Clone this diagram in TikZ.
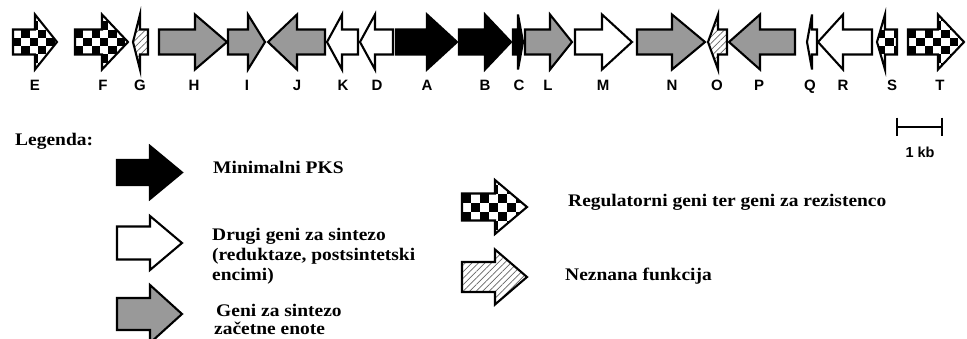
\documentclass[tikz,border=0pt]{standalone}
\usepackage{fontspec}
\setmainfont{Liberation Serif}
\newfontfamily\labelsans{Liberation Sans}
\usetikzlibrary{patterns.meta}

% block arrow outline: tail x, head-base x, tip x, centre y, body half height, head half height
\newcommand\arrowpath[6]{(#1,#4-#5) -- (#2,#4-#5) -- (#2,#4-#6) -- (#3,#4) -- (#2,#4+#6) -- (#2,#4+#5) -- (#1,#4+#5) -- cycle}

% plain filled gene arrow; #7 = fill colour
\newcommand\solidarrow[7]{%
  \draw[outl, fill=#7] \arrowpath{#1}{#2}{#3}{#4}{#5}{#6};}

% gene of unknown function: diagonal hatching
\newcommand\hatcharrow[6]{%
  \fill[white] \arrowpath{#1}{#2}{#3}{#4}{#5}{#6};
  \fill[pattern={Lines[angle=45,distance=4.6pt,line width=0.6pt]}, pattern color=black!60]
    \arrowpath{#1}{#2}{#3}{#4}{#5}{#6};
  \draw[outl] \arrowpath{#1}{#2}{#3}{#4}{#5}{#6};}

% regulatory / resistance gene: chequered; #7 = cell size, #8 = parity of first cell
\newcommand\checkarrow[8]{%
  \fill[white] \arrowpath{#1}{#2}{#3}{#4}{#5}{#6};
  \begin{scope}
    \clip \arrowpath{#1}{#2}{#3}{#4}{#5}{#6};
    \pgfmathsetmacro\cxo{min(#1,#3)}
    \foreach \ci in {0,...,14}{
      \foreach \cj in {-4,...,6}{
        \pgfmathtruncatemacro\cpar{mod(\ci+\cj+#8+20,2)}
        \ifnum\cpar=0
          \fill[black] (\cxo+\ci*#7,#4-#5+\cj*#7) rectangle ++(#7,#7);
        \fi
      }
    }
  \end{scope}
  \draw[outl] \arrowpath{#1}{#2}{#3}{#4}{#5}{#6};}

\begin{document}
\begin{tikzpicture}[x=1pt,y=-1pt,
  outl/.style={draw=black,line width=2.1pt,line join=miter},
  glabel/.style={font=\labelsans\bfseries\fontsize{15}{17}\selectfont, inner sep=0pt, anchor=base},
  legtext/.style={font=\bfseries\fontsize{17.7}{20}\selectfont, inner sep=0pt,
                  anchor=base west, xscale=1.1},
  scalebar/.style={line width=2.8pt},
]
\useasboundingbox (0,0) rectangle (967,338);
\clip (0,0) rectangle (967,338);

\colorlet{genegray}{black!40}

% ---- gene cluster ----
\def\gy{42}\def\gb{12.5}\def\gh{27.5}
\checkarrow{13}{35}{57}{\gy}{\gb}{\gh}{8.33}{1}          % E
\checkarrow{75}{102}{128}{\gy}{\gb}{\gh}{8.33}{0}        % F
\hatcharrow{148}{140}{133}{\gy}{\gb}{\gh}                % G
\solidarrow{159}{195}{227}{\gy}{\gb}{\gh}{genegray}      % H
\solidarrow{228}{248}{265}{\gy}{\gb}{\gh}{genegray}      % I
\solidarrow{325}{297}{268}{\gy}{\gb}{\gh}{genegray}      % J
\solidarrow{358}{342}{327}{\gy}{\gb}{\gh}{white}         % K
\solidarrow{393}{375}{360}{\gy}{\gb}{\gh}{white}         % D
\solidarrow{396}{427}{457}{\gy}{\gb}{\gh}{black}         % A
\solidarrow{459}{485}{511}{\gy}{\gb}{\gh}{black}         % B
\solidarrow{513}{518}{523}{\gy}{\gb}{\gh}{black}         % C
\solidarrow{525}{550}{572}{\gy}{\gb}{\gh}{genegray}      % L
\solidarrow{575}{602}{632}{\gy}{\gb}{\gh}{white}         % M
\solidarrow{637}{672}{705}{\gy}{\gb}{\gh}{genegray}      % N
\hatcharrow{727}{718}{708}{\gy}{\gb}{\gh}                % O
\solidarrow{795}{760}{729}{\gy}{\gb}{\gh}{genegray}      % P
\solidarrow{817}{812}{807}{\gy}{\gb}{\gh}{white}         % Q
\solidarrow{872}{843}{818}{\gy}{\gb}{\gh}{white}         % R
\checkarrow{897}{885}{877}{\gy}{\gb}{\gh}{8.33}{0}       % S
\checkarrow{908}{938}{964}{\gy}{\gb}{\gh}{8.33}{0}       % T

% gene names, all on one baseline
\foreach \g/\gx in {E/35,F/103,G/140,H/194,I/247,J/297,K/343,D/377,A/427,B/485,
                    C/519,L/548,M/603,N/672,O/717,P/759,Q/810,R/843,S/892,T/940}
  \node[glabel] (gene\g) at (\gx,90.5) {\g};

% ---- scale bar ----
\coordinate (sbL) at (897,127);
\coordinate (sbR) at (942,127);
\coordinate (sbLt) at (897,117.5);
\coordinate (sbLb) at (897,136);
\coordinate (sbRt) at (942,117.5);
\coordinate (sbRb) at (942,136);
\draw[scalebar] (sbL) -- (sbR);
\draw[scalebar] (sbLt) -- (sbLb);
\draw[scalebar] (sbRt) -- (sbRb);
\node[glabel, font=\labelsans\bfseries\fontsize{14.5}{16}\selectfont] (sblabel) at (920,157) {1 kb};

% ---- legend ----
\node[legtext] (legtitle) at (15,145) {Legenda:};

\solidarrow{117}{150}{182}{172.5}{12.5}{26.5}{black}
\node[legtext] (legpks) at (213,173) {Minimalni PKS};

\solidarrow{117}{150}{182}{243}{16.5}{27}{white}
\node[legtext] (legother1) at (212,240.5) {Drugi geni za sintezo};
\node[legtext] (legother2) at (212,260.2) {(reduktaze, postsintetski};
\node[legtext] (legother3) at (212,280) {encimi)};

\solidarrow{117}{150}{182}{314}{16}{29}{genegray}
\node[legtext] (legstart1) at (216,316) {Geni za sintezo};
\node[legtext] (legstart2) at (214,334) {začetne enote};

\checkarrow{462}{495}{527}{207}{13.5}{27}{9}{0}
\node[legtext] (legreg) at (568,206.7) {Regulatorni geni ter geni za rezistenco};

\hatcharrow{462}{495}{527}{277}{15}{27.5}
\node[legtext] (legunk) at (565,280) {Neznana funkcija};
\end{tikzpicture}
\end{document}
